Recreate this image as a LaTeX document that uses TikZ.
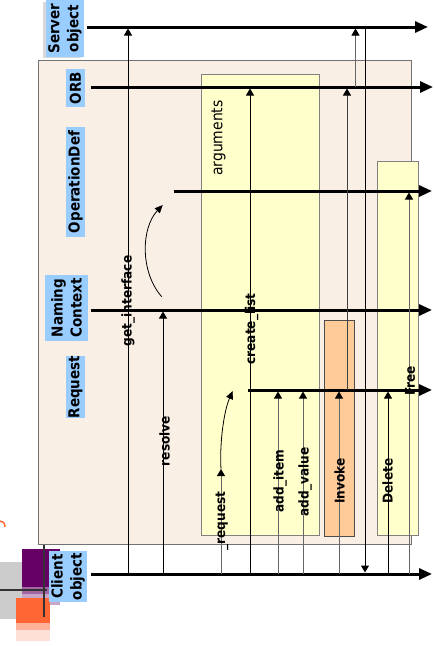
\documentclass[tikz,border=0pt]{standalone}
\usepackage{fontspec}
\newfontfamily\diafont{DejaVu Sans Condensed}
\usetikzlibrary{arrows.meta}
\definecolor{labelblue}{HTML}{99CCFF}
\definecolor{framefill}{HTML}{FAEFE5}
\definecolor{argfill}{HTML}{FFFFCC}
\definecolor{invfill}{HTML}{FFCC99}
\definecolor{deco purple}{HTML}{660066}
\definecolor{deco orange}{HTML}{FF6633}

\begin{document}
\begin{tikzpicture}[x=1pt,y=-1pt,
  lifeline/.style={line width=3pt,-{Triangle[length=13pt,width=11pt]}},
  msg/.style={line width=1pt,shorten >=1.5pt,-{Triangle[length=7pt,width=8pt,black]}},
  msggray/.style={msg,draw=black!60},
  turn/.style={line width=0.8pt,-{Triangle[length=8pt,width=7pt]}},
  objlabel/.style={fill=labelblue,rotate=90,inner sep=0pt,align=center,
    font=\diafont\bfseries\fontsize{15}{19}\selectfont},
  msglabel/.style={rotate=90,inner sep=0pt,
    font=\diafont\bfseries\fontsize{13.5}{16}\selectfont},
  actbox/.style={draw=black!50,line width=1pt,inner sep=0pt}]

\useasboundingbox (0,0) rectangle (435,646);

% corner decoration
\fill[black!20] (0,562) rectangle (22,619);
\fill[deco purple!35] (22,592) rectangle (60,605);
\fill[deco purple!60] (22,587) rectangle (60,594);
\fill[deco purple] (22,549) rectangle (60,587);
\fill[deco orange!20] (16,628) rectangle (50,641);
\fill[deco orange!50] (16,622) rectangle (50,630);
\fill[deco orange] (16,598) rectangle (50,623);
\draw[black!80,line width=2.5pt] (0,590) -- (47,590);
\draw[black!80,line width=2.5pt] (44,544) -- (44,617);
\draw[deco orange,line width=1.5pt] (0,521) .. controls (3,521) and (5,523) .. (5,527);

% frames and activation boxes
\node[actbox,draw=black!55,fill=framefill,minimum width=373.7pt,minimum height=484pt] (frame) at (224.85,302) {};
\node[actbox,fill=argfill,minimum width=117.3pt,minimum height=461pt] (args) at (260.35,304.5) {};
\node[actbox,draw=black!70,fill=invfill,minimum width=29.6pt,minimum height=216.7pt] (invbox) at (339.5,428.35) {};
\node[actbox,fill=argfill,minimum width=41.3pt,minimum height=373.3pt] (delbox) at (397.65,348.35) {};
\node[rotate=90,inner sep=0pt,font=\diafont\fontsize{15.5}{18}\selectfont] (argtxt) at (218.5,138) {arguments};

% object labels
\fill[black!15] (43,2) rectangle (81,58);
\node[objlabel,minimum width=57pt,minimum height=38pt] (srv) at (65,28.5) {Server\\object};
\node[objlabel,minimum width=38pt,minimum height=19pt] (orb) at (75.5,88) {ORB};
\node[objlabel,minimum width=110pt,minimum height=19pt] (opd) at (75.5,182) {OperationDef};
\node[objlabel,minimum width=66pt,minimum height=43pt] (nc) at (66.5,308) {Naming\\Context};
\node[objlabel,minimum width=60pt,minimum height=19pt] (req) at (75.5,387) {Request};
\node[objlabel,minimum width=51pt,minimum height=38pt] (cli) at (68,576.5) {Client\\object};

% lifelines
\coordinate (srvA) at (87,27);   \coordinate (srvB) at (428,27);
\coordinate (orbA) at (91,87);   \coordinate (orbB) at (433,87);
\coordinate (opdA) at (174,191); \coordinate (opdB) at (432,191);
\coordinate (ncA) at (91,310);   \coordinate (ncB) at (432,310);
\coordinate (reqA) at (248,390); \coordinate (reqB) at (432,390);
\coordinate (cliA) at (91,574);  \coordinate (cliB) at (432,574);
\foreach \l in {srv,orb,opd,nc,req,cli}
  \draw[lifeline] (\l A) -- (\l B);

% message columns
\coordinate (xGI) at (128,0);
\coordinate (xRes) at (163,0);
\coordinate (xReq) at (221,0);
\coordinate (xCL) at (250,0);
\coordinate (xAI) at (278,0);
\coordinate (xAV) at (303,0);
\coordinate (xInv) at (339,0);
\coordinate (xRI) at (347,0);
\coordinate (xOS) at (355.5,0);
\coordinate (xRet) at (365,0);
\coordinate (xDel) at (388,0);
\coordinate (xFree) at (409,0);

\draw[msg] (xGI |- cliA) -- (xGI |- srvA);
\draw[msg] (xRes |- cliA) -- (xRes |- ncA);
\coordinate (reqTip) at (221,469);
\draw[msggray,shorten >=0pt] (xReq |- cliA) -- (reqTip);
\draw[msg] (xCL |- cliA) -- (xCL |- orbA);
\draw[msggray] (xAI |- cliA) -- (xAI |- reqA);
\draw[msggray] (xAV |- cliA) -- (xAV |- reqA);
\draw[msggray] (xInv |- cliA) -- (xInv |- reqA);
\draw[msg,draw=black!75] (xRI |- reqA) -- (xRI |- orbA);
\draw[msggray] (xOS |- orbA) -- (xOS |- srvA);
\draw[msg] (xRet |- srvA) -- (xRet |- cliA);
\draw[msg] (xDel |- cliA) -- (xDel |- reqA);
\draw[msggray] (xFree |- cliA) -- (xFree |- opdA);

% transitions between objects
\coordinate (ncFrom) at (161.7,296.7);
\coordinate (opdTo) at (162.7,205);
\draw[turn] (ncFrom) .. controls (140,272) and (141,228) .. (opdTo);
\coordinate (reqTo) at (232.7,391);
\draw[turn] (reqTip) .. controls (219.5,445) and (223.5,412) .. (reqTo);

% message labels
\node[msglabel] (lGI) at (128,301) {get\_interface};
\node[msglabel] (lRes) at (164.5,441) {resolve};
\node[msglabel] (lCL) at (251.5,329) {create\_list};
\node[msglabel] (lReq) at (222,521) {\_request};
\node[msglabel] (lAI) at (280,481) {add\_item};
\node[msglabel] (lAV) at (305,482) {add\_value};
\node[msglabel] (lInv) at (339.5,481) {Invoke};
\node[msglabel] (lDel) at (387.5,481) {Delete};
\node[msglabel] (lFree) at (410,381) {Free};

\end{tikzpicture}
\end{document}
